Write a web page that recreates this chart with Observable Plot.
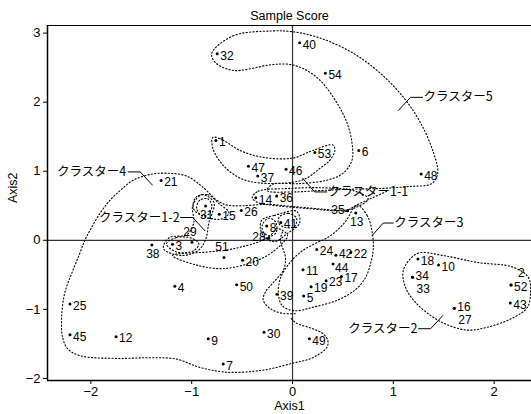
<!DOCTYPE html>
<html><head><meta charset="utf-8">
<script src="https://cdn.jsdelivr.net/npm/d3@7"></script>
<script src="https://cdn.jsdelivr.net/npm/@observablehq/plot@0.6"></script>
<style>body{margin:0;background:#fff} svg{display:block}</style>
</head><body><div id="chart"></div>
<script>
// ---- data ----
const sampleIds = [1,2,3,4,5,6,7,8,9,10,11,12,13,14,15,16,17,18,19,20,21,22,23,24,25,26,27,28,29,30,31,32,33,34,35,36,37,38,39,40,41,42,43,44,45,46,47,48,49,50,51,52,53,54];
const axis1Scores = [-0.76,2.167,-1.19,-1.167,0.111,0.657,-0.687,-0.256,-0.836,1.448,0.104,-1.75,0.627,-0.364,-0.727,1.604,0.485,1.243,0.184,-0.495,-1.303,0.578,0.333,0.24,-2.207,-0.508,1.604,-0.236,-0.998,-0.283,-0.862,-0.747,1.19,1.19,0.546,-0.157,-0.345,-1.395,-0.154,0.071,-0.117,0.43,2.16,0.402,-2.207,-0.064,-0.437,1.276,0.167,-0.554,-0.68,2.167,0.221,0.326];
const axis2Scores = [1.445,-0.648,-0.058,-0.667,-0.807,1.30,-1.79,0.207,-1.425,-0.357,-0.425,-1.395,0.396,0.615,0.377,-0.985,-0.526,-0.271,-0.671,-0.29,0.865,-0.178,-0.584,-0.133,-0.923,0.43,-0.985,0.03,-0.027,-1.333,0.498,2.70,-0.536,-0.536,0.428,0.64,0.93,-0.068,-0.783,2.86,0.256,-0.217,-0.909,-0.343,-1.367,1.03,1.073,0.96,-1.425,-0.643,-0.25,-0.648,1.27,2.42];

// label placement groups
const labelLeft = [28, 35];
const labelAbove = [29, 51];
const labelBelow = [31, 38, 13];
const labelSecondLine = [33, 27];
const labelRaised = [2];
const labelLifted = [16, 34, 42];
const labelLowered = [44];

const xTicks = [-2,-1,0,1,2];
const yTicks = [-2,-1,0,1,2,3];

// cluster callouts
const clusterNames = ["クラスター5","クラスター1-1","クラスター4","クラスター1-2","クラスター3","クラスター2"];
const calloutX = [1.30, 0.35, -1.65, -1.12, 1.01, 1.24];
const calloutY = [2.07, 0.70, 0.99, 0.33, 0.25, -1.28];
const calloutSide = ["start","start","end","end","start","end"];
const leaders = [
  [[1.05,1.88],[1.17,2.07],[1.29,2.07]],
  [[0.10,0.90],[0.22,0.70],[0.34,0.70]],
  [[-1.39,0.80],[-1.51,0.99],[-1.63,0.99]],
  [[-0.87,0.14],[-0.99,0.33],[-1.11,0.33]],
  [[0.79,0.07],[0.90,0.25],[1.00,0.25]],
  [[1.49,-1.09],[1.37,-1.28],[1.25,-1.28]]
];

// hand-drawn cluster outlines (data units)
const closedOutlines = {
  c5: [[-0.80,2.71],[-0.59,2.96],[-0.22,3.03],[0.00,3.02],[0.27,2.93],[0.60,2.71],[0.87,2.42],[1.10,2.07],[1.27,1.70],[1.40,1.26],[1.44,0.97],[1.38,0.82],[1.17,0.78],[0.87,0.75],[0.57,0.74],[0.27,0.72],[0.00,0.70],[-0.25,0.72],[-0.20,0.81],[0.07,0.82],[0.34,0.87],[0.50,0.97],[0.59,1.16],[0.59,1.41],[0.54,1.70],[0.44,1.99],[0.27,2.32],[0.10,2.49],[-0.05,2.55],[-0.22,2.54],[-0.59,2.46],[-0.77,2.58]],
  c11: [[-0.79,1.49],[-0.69,1.45],[-0.52,1.30],[-0.29,1.20],[0.00,1.19],[0.20,1.30],[0.40,1.38],[0.42,1.30],[0.37,1.16],[0.27,1.04],[0.14,0.90],[0.00,0.84],[-0.32,0.83],[-0.52,0.90],[-0.69,1.09],[-0.79,1.33]],
  c14: [[-0.40,0.62],[-0.34,0.71],[-0.05,0.75],[0.30,0.76],[0.60,0.72],[0.75,0.60],[0.62,0.47],[0.45,0.43],[0.15,0.46],[-0.15,0.50],[-0.35,0.55]],
  c3: [[0.64,0.51],[0.74,0.36],[0.79,0.12],[0.80,-0.14],[0.77,-0.36],[0.72,-0.55],[0.62,-0.72],[0.44,-0.87],[0.20,-0.97],[0.02,-1.02],[-0.10,-0.95],[-0.14,-0.78],[-0.12,-0.55],[-0.04,-0.35],[0.08,-0.17],[0.22,-0.05],[0.37,0.06],[0.52,0.26]],
  c2: [[1.10,-0.43],[1.24,-0.19],[1.49,-0.22],[1.83,-0.32],[2.19,-0.39],[2.34,-0.54],[2.36,-0.77],[2.33,-0.97],[2.19,-1.12],[1.93,-1.26],[1.73,-1.30],[1.53,-1.22],[1.38,-1.10],[1.22,-0.90],[1.12,-0.68]],
  l31a: [[-0.92,0.58],[-0.84,0.60],[-0.80,0.50],[-0.83,0.38],[-0.90,0.36],[-0.95,0.46]],
  l31b: [[-0.96,0.62],[-0.84,0.66],[-0.72,0.52],[-0.63,0.40],[-0.70,0.31],[-0.85,0.33],[-0.98,0.45]],
  l12: [[-0.99,0.50],[-0.90,0.66],[-0.78,0.55],[-0.83,0.25],[-0.86,0.02],[-0.93,-0.14],[-1.10,-0.22],[-1.28,-0.12],[-1.22,0.04],[-1.05,0.08],[-0.98,0.25]],
  l29: [[-1.25,-0.05],[-1.15,0.04],[-1.00,0.03],[-0.93,-0.05],[-0.98,-0.15],[-1.15,-0.17]],
  l8: [[-0.30,0.22],[-0.24,0.32],[-0.17,0.27],[-0.16,0.12],[-0.22,0.06],[-0.29,0.12]],
  l41: [[-0.13,0.34],[-0.04,0.39],[0.04,0.32],[0.02,0.20],[-0.08,0.19],[-0.14,0.25]],
  l28: [[-0.30,0.30],[-0.18,0.36],[0.04,0.42],[0.07,0.25],[-0.05,0.10],[-0.18,-0.02],[-0.28,0.05],[-0.32,0.18]],
  band: [[-0.85,-0.17],[-0.65,-0.14],[-0.52,-0.10],[-0.35,-0.03],[-0.22,0.07],[-0.15,0.17],[-0.05,0.07],[-0.12,-0.07],[-0.25,-0.22],[-0.42,-0.33],[-0.69,-0.41],[-0.95,-0.36],[-1.19,-0.22]]
};
const openOutlines = {
  c4: [[0.53,0.42],[0.30,0.45],[0.00,0.49],[-0.25,0.52],[-0.50,0.50],[-0.65,0.51],[-0.75,0.58],[-0.89,0.77],[-1.05,0.93],[-1.22,0.97],[-1.39,0.96],[-1.58,0.87],[-1.71,0.72],[-1.81,0.58],[-1.91,0.39],[-2.01,0.14],[-2.06,0.00],[-2.11,-0.19],[-2.19,-0.48],[-2.26,-0.77],[-2.29,-1.12],[-2.28,-1.41],[-2.23,-1.57],[-2.11,-1.67],[-1.74,-1.71],[-1.42,-1.70],[-1.15,-1.72],[-0.92,-1.84],[-0.65,-1.91],[-0.29,-1.88],[0.00,-1.78],[0.20,-1.70],[0.34,-1.55],[0.35,-1.45],[0.30,-1.35],[0.20,-1.28],[0.04,-1.20],[-0.02,-1.12]],
  c4up: [[0.53,0.42],[0.65,0.52],[0.80,0.62],[0.95,0.72]],
  g39: [[-0.10,0.12],[-0.12,0.00],[-0.07,-0.25],[-0.09,-0.43],[-0.19,-0.61],[-0.27,-0.75],[-0.29,-0.87],[-0.22,-0.99],[-0.09,-1.06],[0.04,-1.06]]
};

// ---- build tables ----
const points = sampleIds.map((id, i) => ({id, x: axis1Scores[i], y: axis2Scores[i]}));
const place = id => labelLeft.includes(id) ? "left" : labelAbove.includes(id) ? "above" : labelBelow.includes(id) ? "below" : labelSecondLine.includes(id) ? "second" : labelRaised.includes(id) ? "raised" : labelLifted.includes(id) ? "lifted" : labelLowered.includes(id) ? "lowered" : "right";
const lab = k => points.filter(p => place(p.id) === k);
const toRows = obj => Object.entries(obj).flatMap(([k, pts]) => pts.map(([x, y]) => ({k, x, y})));
const closedRows = toRows(closedOutlines);
const openRows = toRows(openOutlines);
const leaderRows = leaders.flatMap((pts, i) => pts.map(([x, y]) => ({k: i, x, y})));
const callouts = clusterNames.map((name, i) => ({name, x: calloutX[i], y: calloutY[i], side: calloutSide[i]}));

const FONT = "'Liberation Sans','Noto Sans CJK JP',sans-serif";
const JFONT = "'Noto Sans CJK JP',sans-serif";
const dotted = {stroke: "#000", strokeWidth: 1.1, strokeDasharray: "1.2,2.2"};
const txt = {text: "id", fontSize: 12, fill: "#000"};
const fmt = d => (d < 0 ? "\u2212" : "") + Math.abs(d);

const chart = Plot.plot({
  width: 531, height: 414,
  marginLeft: 47, marginRight: 0, marginTop: 25, marginBottom: 34,
  style: {fontFamily: FONT, fontSize: "13px", color: "#000", background: "#fff"},
  x: {domain: [-2.43, 2.37], ticks: xTicks, tickFormat: fmt, tickSize: 4, tickPadding: 2, label: null},
  y: {domain: [-2.03, 3.11], ticks: yTicks, tickFormat: fmt, tickSize: 4, tickPadding: 3, label: null},
  marks: [
    Plot.ruleX([0], {stroke: "#333", strokeWidth: 1.2}),
    Plot.ruleY([0], {stroke: "#333", strokeWidth: 1.2}),
    Plot.line(closedRows, {x: "x", y: "y", z: "k", curve: "catmull-rom-closed", ...dotted}),
    Plot.line(openRows, {x: "x", y: "y", z: "k", curve: "catmull-rom", ...dotted}),
    Plot.line(leaderRows, {x: "x", y: "y", z: "k", stroke: "#000", strokeWidth: 1}),
    Plot.dot(points, {x: "x", y: "y", r: 1.5, fill: "#000", stroke: null}),
    Plot.text(lab("right"), {x: "x", y: "y", ...txt, textAnchor: "start", dx: 3, dy: 2}),
    Plot.text(lab("lifted"), {x: "x", y: "y", ...txt, textAnchor: "start", dx: 3, dy: -1}),
    Plot.text(lab("lowered"), {x: "x", y: "y", ...txt, textAnchor: "start", dx: 2, dy: 4}),
    Plot.text(lab("left"), {x: "x", y: "y", ...txt, textAnchor: "end", dx: -3, dy: -1}),
    Plot.text(lab("above"), {x: "x", y: "y", ...txt, textAnchor: "middle", dx: -2, dy: -10}),
    Plot.text(lab("below"), {x: "x", y: "y", ...txt, textAnchor: "middle", dx: 1, dy: 9}),
    Plot.text(lab("second"), {x: "x", y: "y", ...txt, textAnchor: "start", dx: 4, dy: 12}),
    Plot.text(lab("raised"), {x: "x", y: "y", ...txt, textAnchor: "start", dx: 7, dy: -12}),
    Plot.text(callouts.filter(d => d.side === "start"), {x: "x", y: "y", text: "name", textAnchor: "start", fontSize: 12.5, fontFamily: JFONT}),
    Plot.text(callouts.filter(d => d.side === "end"), {x: "x", y: "y", text: "name", textAnchor: "end", fontSize: 12.5, fontFamily: JFONT}),
    Plot.ruleY([3.11], {stroke: "#000", strokeWidth: 1.2}),
    Plot.ruleY([-2.03], {stroke: "#000", strokeWidth: 1.5}),
    Plot.ruleX([-2.43], {stroke: "#000", strokeWidth: 1.5}),
    Plot.text(["Sample Score"], {frameAnchor: "top", lineAnchor: "middle", dy: -10, fontSize: 12.5, fill: "#000"}),
    Plot.text(["Axis1"], {frameAnchor: "bottom", lineAnchor: "middle", dy: 25, fontSize: 12.5, fill: "#000"}),
    Plot.text(["Axis2"], {frameAnchor: "left", lineAnchor: "middle", dx: -35, rotate: -90, fontSize: 12.5, fill: "#000"})
  ]
});
document.getElementById("chart").appendChild(chart);
</script>
</body></html>
